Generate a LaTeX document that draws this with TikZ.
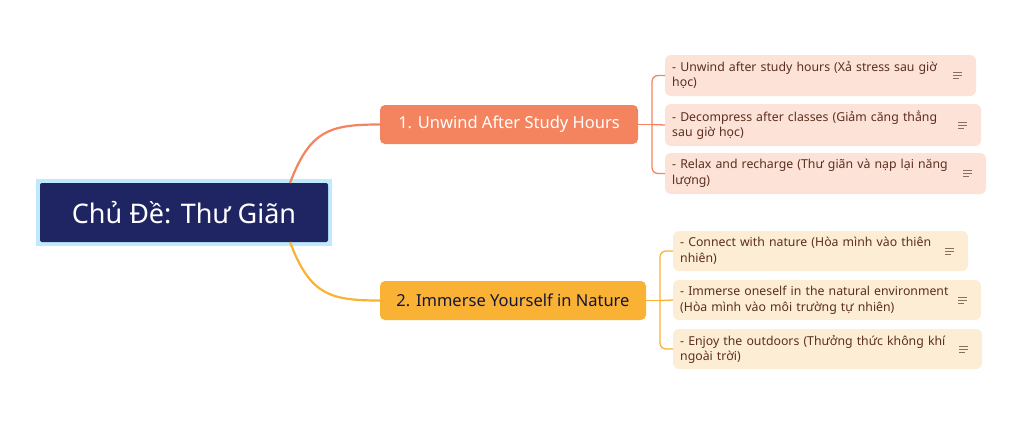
\documentclass[tikz,border=0pt]{standalone}
\usepackage{fontspec}
\setmainfont{Noto Sans}
\usetikzlibrary{positioning}
\definecolor{navy}{HTML}{1F2462}
\definecolor{coral}{HTML}{F4845F}
\definecolor{amber}{HTML}{F9B233}
\definecolor{coralpale}{HTML}{FDE2D8}
\definecolor{amberpale}{HTML}{FDEDD5}
\definecolor{leaftext}{HTML}{5B2E1E}
\tikzset{
  leaf/.style={rounded corners=4pt, text width=#1, align=left, inner sep=0pt,
    font=\fontsize{12.3}{15.5}\selectfont, text=leaftext, anchor=north west},
  branch/.style={rounded corners=5pt, inner sep=0pt, font=\fontsize{16.5}{19}\selectfont},
  notes/.pic={\draw[leaftext!70, line width=0.9pt] (0,-3) -- (9,-3) (0,0) -- (9,0) (0,3) -- (6,3);}
}
\newcommand{\leafbox}[7]{% name, x1, y1, x2, y2, fill, text
  \fill[#6, rounded corners=6pt] (#2,#3) rectangle (#4,#5);
  \node[leaf=#4pt-#2pt-38pt] (#1) at (#2+7,#3+6) {#7};
  \coordinate (#1-w) at (#2,#3/2+#5/2);
  \pic at (#4-23,#3/2+#5/2) {notes};
}
\begin{document}
\begin{tikzpicture}[x=1pt, y=-1pt]
	\useasboundingbox (0,0) rectangle (1024,421);
	
	% root
	\fill[cyan!25] (36,179) rectangle (332,246);
	\node[fill=navy, minimum width=288pt, minimum height=59pt, inner sep=0pt, rounded corners=2pt,
	  text=white, font=\fontsize{27}{32}\selectfont] (root) at (184,212.5) {Chủ Đề: Thư Giãn};
	
	% branches
	\node[branch, fill=coral, text=white, minimum width=258pt, minimum height=39pt] (b1) at (509,124.5) {1. Unwind After Study Hours};
	\node[branch, fill=amber, text=navy!60!black, minimum width=266pt, minimum height=39pt] (b2) at (513,300.5) {2. Immerse Yourself in Nature};
	
	\draw[coral, line width=2.2pt] (290,183) .. controls (310,130) and (330,124.5) .. (b1.west);
	\draw[amber, line width=2.2pt] (290,242) .. controls (310,295) and (330,300.5) .. (b2.west);
	
	% leaves of branch 1
	\leafbox{l11}{665}{55}{976}{96}{coralpale}{- Unwind after study hours (Xả stress sau giờ học)}
	\leafbox{l12}{665}{104}{981}{146}{coralpale}{- Decompress after classes (Giảm căng thẳng sau giờ học)}
	\leafbox{l13}{665}{153}{986}{194}{coralpale}{- Relax and recharge (Thư giãn và nạp lại năng lượng)}
	
	% leaves of branch 2
	\leafbox{l21}{673}{231}{968}{271}{amberpale}{- Connect with nature (Hòa mình vào thiên nhiên)}
	\leafbox{l22}{673}{280}{981}{320}{amberpale}{- Immerse oneself in the natural environment (Hòa mình vào môi trường tự nhiên)}
	\leafbox{l23}{673}{329}{982}{369}{amberpale}{- Enjoy the outdoors (Thưởng thức không khí ngoài trời)}
	
	% brackets
	\coordinate (k1) at (652,124.5);
	\coordinate (k2) at (660,300.5);
	\draw[coral, line width=1.3pt] (b1.east) -- (k1);
	\draw[coral, line width=1.3pt, rounded corners=6pt] (l11-w) -| (k1) |- (l13-w);
	\draw[coral, line width=1.3pt] (k1) -- (l12-w);
	\draw[amber, line width=1.3pt] (b2.east) -- (k2);
	\draw[amber, line width=1.3pt, rounded corners=6pt] (l21-w) -| (k2) |- (l23-w);
	\draw[amber, line width=1.3pt] (k2) -- (l22-w);
\end{tikzpicture}
\end{document}
